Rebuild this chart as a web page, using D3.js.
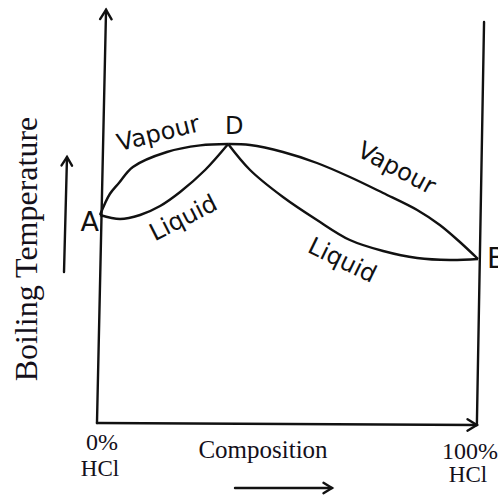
<!DOCTYPE html>
<html lang="en">
<head>
  <meta charset="UTF-8">
  <title>Boiling Temperature vs Composition (HCl)</title>
  <script src="https://d3js.org/d3.v7.min.js"></script>
  <style>
    body { margin: 0; background: #fff; }
    svg { display: block; }
    .curve { fill: none; stroke: #111; stroke-width: 2.4px; }
    .axis-line { fill: none; stroke: #111; stroke-width: 2.4px; stroke-linecap: round; }
    .hand { font-family: "DejaVu Sans", sans-serif; fill: #111; }
    .serif { font-family: "Liberation Serif", "Times New Roman", serif; fill: #14101a; }
  </style>
</head>
<body>
  <svg width="498" height="496"></svg>
  <script>
    // composition (% HCl) and boiling temperature (arbitrary units)
    const vapourAD = [[0, 52], [2.6, 57.25], [5, 60], [8.7, 64], [17.7, 67.75], [26.5, 69.4], [33.9, 69.75]];
    const liquidAD = [[0, 52], [5.3, 51], [10.6, 52], [15.9, 54.25], [21.2, 57.75], [27.8, 63.25], [33.9, 69.75]];
    const vapourDB = [[33.9, 69.75], [39.7, 69.5], [48.4, 67.75], [57.4, 65], [66.1, 61.5], [74.9, 57.5], [83.9, 53.25], [89.9, 49.5], [95.2, 45.25], [100, 41]];
    const liquidDB = [[33.9, 69.75], [39.7, 63.25], [48.4, 56.5], [57.4, 50.75], [66.1, 45.75], [74.9, 43], [83.9, 41.25], [92.6, 40.75], [100, 41]];
    const points = [
      { name: "A", c: 0, t: 52 },
      { name: "D", c: 33.9, t: 69.75 },
      { name: "B", c: 100, t: 41 }
    ];
    const xTicks = [{ c: 0, top: "0%", bottom: "HCl" }, { c: 100, top: "100%", bottom: "HCl" }];
    const yTitle = "Boiling Temperature";
    const xTitle = "Composition";

    const svg = d3.select("svg");
    const x = d3.scaleLinear().domain([0, 100]).range([100, 478]);
    const y = d3.scaleLinear().domain([0, 100]).range([423, 23]);

    const g = svg.append("g");

    // open chevron arrow head at (tx,ty) pointing along angle (radians)
    function arrowHead(tx, ty, ang, len = 10, spread = 0.55) {
      const p1 = [tx - len * Math.cos(ang - spread), ty - len * Math.sin(ang - spread)];
      const p2 = [tx - len * Math.cos(ang + spread), ty - len * Math.sin(ang + spread)];
      g.append("path").attr("class", "axis-line")
        .attr("d", `M${p1[0]},${p1[1]}L${tx},${ty}L${p2[0]},${p2[1]}`);
    }
    function arrow(x1, y1, x2, y2, len) {
      g.append("path").attr("class", "axis-line").attr("d", `M${x1},${y1}L${x2},${y2}`);
      arrowHead(x2, y2, Math.atan2(y2 - y1, x2 - x1), len);
    }

    // axes (hand-drawn, slightly tilted)
    arrow(x(-0.8), y(0), x(1.6), y(103.3), 11);
    arrow(x(-0.8), y(0), x(99.7), y(-0.5), 11);
    g.append("path").attr("class", "axis-line")
      .attr("d", `M${x(101.6)},${y(100.25)}L${x(99.7)},${y(-0.5)}`);

    // phase curves
    const line = d3.line()
      .x(d => x(d[0]))
      .y(d => y(d[1]))
      .curve(d3.curveCatmullRom.alpha(0.5));
    [vapourAD, liquidAD, vapourDB, liquidDB].forEach(data => {
      g.append("path").attr("class", "curve").attr("d", line(data));
    });

    // curve labels
    const curveLabels = [
      { text: "Vapour", c: 15.9, t: 70.5, rot: -14 },
      { text: "Liquid", c: 23.0, t: 49.5, rot: -27 },
      { text: "Vapour", c: 77.5, t: 62.0, rot: 28 },
      { text: "Liquid", c: 63.2, t: 38.9, rot: 26 }
    ];
    g.selectAll("text.curve-label")
      .data(curveLabels)
      .join("text")
      .attr("class", "hand curve-label")
      .attr("text-anchor", "middle")
      .attr("font-size", 24)
      .attr("transform", d => `translate(${x(d.c)},${y(d.t)}) rotate(${d.rot})`)
      .text(d => d.text);

    // point labels
    const labelOffset = { A: [-1, 16, 27, "end"], D: [6, -10, 24, "middle"], B: [9, 9, 28, "start"] };
    g.selectAll("text.pt")
      .data(points)
      .join("text")
      .attr("class", "hand pt")
      .attr("text-anchor", d => labelOffset[d.name][3])
      .attr("font-size", d => labelOffset[d.name][2])
      .attr("x", d => x(d.c) + labelOffset[d.name][0])
      .attr("y", d => y(d.t) + labelOffset[d.name][1])
      .text(d => d.name);

    // x tick labels
    const tickPos = { 0: [x(0) + 2, 450, 476], 100: [x(100) - 8, 459, 482] };
    xTicks.forEach(d => {
      const p = tickPos[d.c];
      g.append("text").attr("class", "serif").attr("text-anchor", "middle")
        .attr("font-size", 24).attr("x", p[0]).attr("y", p[1]).text(d.top);
      g.append("text").attr("class", "serif").attr("text-anchor", "middle")
        .attr("font-size", 23).attr("x", p[0] - 2).attr("y", p[2]).text(d.bottom);
    });

    // axis titles with direction arrows
    g.append("text").attr("class", "serif")
      .attr("text-anchor", "middle")
      .attr("font-size", 25)
      .attr("x", 263).attr("y", 458)
      .text(xTitle);
    arrow(235, 488, 332, 488, 10);

    g.append("text").attr("class", "serif")
      .attr("text-anchor", "middle")
      .attr("font-size", 32)
      .attr("transform", "translate(37,249) rotate(-90)")
      .text(yTitle);
    arrow(64, 272, 67, 157, 10);
  </script>
</body>
</html>
